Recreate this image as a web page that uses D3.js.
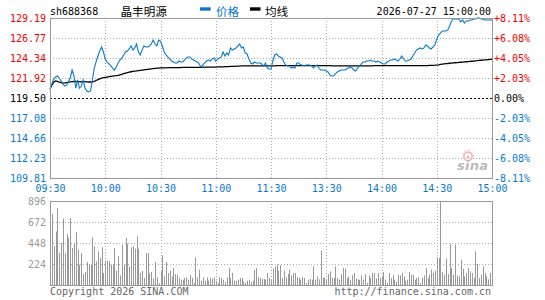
<!DOCTYPE html>
<html><head><meta charset="utf-8">
<script src="https://cdn.jsdelivr.net/npm/d3@7"></script>
<style>body{margin:0;background:#fff} svg{display:block}</style>
</head><body><svg id="c" width="545" height="300"></svg>
<script>
const stockCode = "sh688368";
const stockName = "晶丰明源";
const dateLabel = "2026-07-27 15:00:00";
const legendLabels = ["价格", "均线"];
const priceTicks = [129.19,126.77,124.34,121.92,119.50,117.08,114.66,112.23,109.81];
const pctTicks = ["+8.11%","+6.08%","+4.05%","+2.03%","0.00%","-2.03%","-4.05%","-6.08%","-8.11%"];
const timeTicks = [0,30,60,90,120,150,180,210,240];
const timeLabels = ["09:30","10:00","10:30","11:00","11:30","13:30","14:00","14:30","15:00"];
const volTicks = [224,448,672,896];

const price = [
120.59,121.20,121.80,122.05,122.17,121.92,121.56,121.20,120.95,121.08,
121.44,121.92,122.89,122.17,120.71,121.68,120.71,120.95,121.68,120.71,
120.35,120.23,120.35,121.68,123.13,123.86,124.59,125.19,125.68,125.07,
124.22,123.86,123.62,123.38,123.13,122.89,123.26,123.74,124.10,124.35,
124.71,125.07,125.19,125.44,125.80,125.31,125.56,126.04,125.07,124.71,
125.31,125.80,125.68,125.68,125.80,126.04,126.52,126.04,125.80,126.52,
126.40,125.80,125.07,124.71,124.47,124.22,123.98,123.86,123.74,123.74,
123.98,123.86,123.86,124.10,124.35,124.47,124.47,124.22,124.10,123.98,
123.86,123.62,123.26,123.50,123.74,123.98,124.10,123.98,124.22,124.35,
123.98,124.22,124.35,124.47,125.07,124.59,124.95,124.71,125.56,125.31,
125.44,125.56,125.80,126.04,125.56,125.68,124.95,124.83,124.22,123.74,
123.62,123.86,123.74,123.74,123.74,123.62,123.38,123.74,123.13,123.01,
123.01,
123.98,124.71,124.83,124.59,124.47,124.35,123.86,123.50,123.38,123.38,
123.13,123.26,123.13,123.74,123.74,123.50,123.50,123.38,123.50,123.50,
123.50,123.38,123.13,123.38,123.50,123.13,122.89,122.89,122.89,122.77,
122.65,122.29,122.17,122.17,122.41,122.65,122.77,122.89,122.89,122.89,
123.01,123.13,123.26,123.13,122.89,122.77,123.13,123.38,123.62,123.86,
123.86,123.98,123.98,124.10,123.98,123.98,123.86,123.98,123.86,123.74,
123.62,123.62,123.86,123.98,124.10,124.10,124.22,124.10,123.98,124.22,
124.59,124.22,123.98,123.98,124.10,124.22,124.59,124.95,125.31,125.44,
125.56,125.44,125.56,125.92,125.80,125.56,125.44,125.68,125.92,126.65,
127.13,127.37,127.62,127.62,127.62,127.74,128.22,128.83,129.07,129.07,
129.07,129.07,128.71,128.95,128.58,128.83,128.83,128.95,128.95,129.07,
129.07,129.19,129.19,129.07,129.07,128.95,128.95,128.95,128.95,128.95
];

const avgPrice = [
120.59,121.05,121.40,121.56,121.50,121.42,121.36,121.30,121.32,121.36,
121.40,121.44,121.48,121.50,121.50,121.48,121.48,121.46,121.48,121.48,
121.46,121.44,121.44,121.45,121.52,121.62,121.72,121.82,121.90,121.96,
122.00,122.04,122.08,122.11,122.14,122.17,122.20,122.24,122.30,122.36,
122.45,122.52,122.58,122.64,122.68,122.72,122.75,122.78,122.82,122.85,
122.88,122.91,122.94,122.97,123.00,123.03,123.06,123.09,123.11,123.13,
123.14,123.15,123.16,123.16,123.17,123.17,123.18,123.18,123.18,123.19,
123.19,123.19,123.20,123.20,123.20,123.21,123.21,123.21,123.22,123.22,
123.22,123.22,123.22,123.23,123.23,123.23,123.23,123.24,123.24,123.25,
123.25,123.26,123.26,123.27,123.28,123.29,123.30,123.31,123.32,123.33,
123.34,123.35,123.36,123.37,123.38,123.38,123.38,123.39,123.39,123.39,
123.39,123.39,123.39,123.39,123.39,123.39,123.39,123.39,123.39,123.39,
123.39,
123.40,123.40,123.41,123.41,123.41,123.41,123.41,123.41,123.41,123.41,
123.41,123.41,123.41,123.41,123.41,123.41,123.41,123.41,123.41,123.41,
123.41,123.41,123.41,123.41,123.41,123.41,123.41,123.41,123.41,123.41,
123.41,123.41,123.40,123.40,123.40,123.40,123.40,123.40,123.40,123.40,
123.40,123.40,123.40,123.40,123.40,123.40,123.40,123.40,123.40,123.40,
123.40,123.40,123.40,123.40,123.40,123.41,123.41,123.41,123.41,123.41,
123.41,123.41,123.41,123.41,123.41,123.41,123.41,123.41,123.41,123.41,
123.41,123.41,123.41,123.41,123.42,123.42,123.42,123.42,123.42,123.42,
123.42,123.42,123.42,123.42,123.43,123.44,123.45,123.46,123.47,123.49,
123.52,123.56,123.60,123.63,123.66,123.68,123.71,123.73,123.75,123.77,
123.79,123.81,123.83,123.85,123.87,123.89,123.91,123.93,123.95,123.97,
124.00,124.02,124.05,124.07,124.09,124.11,124.13,124.15,124.17,124.19
];

const volume = [
174,757,412,572,821,341,448,708,341,544,
508,715,395,448,565,377,217,341,117,139,
245,217,217,508,412,252,359,288,402,128,
252,260,252,217,217,395,153,306,103,430,
217,501,441,199,402,412,388,519,388,128,
153,75,341,341,128,139,68,245,82,21,
146,316,92,245,128,153,92,181,117,110,
75,57,57,75,82,57,110,75,21,295,
82,164,46,82,46,82,46,75,68,82,
46,21,82,75,57,32,82,181,75,128,
46,46,57,75,75,39,21,46,57,28,
46,164,181,82,75,64,64,57,128,75,
57,
174,199,217,153,210,75,153,82,117,164,
103,128,128,82,75,57,82,75,21,57,
64,57,199,57,92,60,366,82,75,57,
117,146,75,75,199,75,57,117,181,174,
75,92,57,103,128,68,57,57,103,57,
117,21,103,75,128,128,68,128,75,92,
139,57,21,128,75,103,57,32,110,103,
128,92,46,57,139,110,110,57,75,82,
21,75,103,181,75,110,164,128,153,296,
288,896,139,110,281,117,437,181,110,430,
103,92,270,174,92,128,181,146,128,75,
359,224,75,110,199,128,92,60,128,110
];

const RED = "#f20000", BLUE = "#0a78cc", GRAY = "#999", MONO = "'DejaVu Sans Mono', monospace";
const svg = d3.select("#c");
const L = 50, R = 492, T = 18, B = 178, VT = 201, VB = 285;

const x = d3.scaleLinear().domain([0, 240]).range([L, R]);
const yP = d3.scaleLinear().domain([109.81, 129.19]).range([B, T]);
const yV = d3.scaleLinear().domain([0, 896]).range([VB, VT]);
const px = v => Math.round(v) + 0.5;

// header
svg.append("text").attr("x", 50).attr("y", 15).attr("font-family", MONO).attr("font-size", 10).attr("fill", "#000").text(stockCode);
svg.append("text").attr("x", 120.5).attr("y", 15.5).attr("font-family", "'Noto Sans CJK SC'").attr("font-size", 11.6).attr("fill", "#000").text(stockName);
svg.append("rect").attr("x", 200).attr("y", 7.3).attr("width", 10.7).attr("height", 3.4).attr("fill", BLUE);
svg.append("text").attr("x", 216).attr("y", 15.5).attr("font-family", "'Noto Sans CJK SC'").attr("font-size", 11.6).attr("fill", BLUE).text(legendLabels[0]);
svg.append("rect").attr("x", 250).attr("y", 7.3).attr("width", 10.5).attr("height", 3.4).attr("fill", "#000");
svg.append("text").attr("x", 265).attr("y", 15.5).attr("font-family", "'Noto Sans CJK SC'").attr("font-size", 11.6).attr("fill", "#000").text(legendLabels[1]);
svg.append("text").attr("x", 491).attr("y", 15).attr("text-anchor", "end").attr("font-family", MONO).attr("font-size", 10).attr("fill", "#000").text(dateLabel);

// grids (price)
const g = svg.append("g");
priceTicks.forEach((p, i) => {
  if (i === 0 || i === priceTicks.length - 1) return;
  const yy = px(yP(p));
  g.append("line").attr("x1", L).attr("x2", R).attr("y1", yy).attr("y2", yy)
    .attr("stroke", i === 4 ? "#000" : "#aaa").attr("stroke-dasharray", i === 4 ? "2,2" : "1,2");
});
timeTicks.slice(1, -1).forEach(t => {
  const xx = px(x(t));
  g.append("line").attr("x1", xx).attr("x2", xx).attr("y1", T).attr("y2", B).attr("stroke", "#aaa").attr("stroke-dasharray", "1,2");
  g.append("line").attr("x1", xx).attr("x2", xx).attr("y1", VT).attr("y2", VB).attr("stroke", "#aaa").attr("stroke-dasharray", "1,2");
});
volTicks.slice(0, -1).forEach(v => {
  const yy = px(yV(v));
  g.append("line").attr("x1", L).attr("x2", R).attr("y1", yy).attr("y2", yy).attr("stroke", "#aaa").attr("stroke-dasharray", "1,2");
});

// watermark
const wm = svg.append("g");
wm.append("circle").attr("cx", 468).attr("cy", 156.5).attr("r", 4.2).attr("fill", "none").attr("stroke", "#f5b3b3").attr("stroke-width", 1.6);
wm.append("circle").attr("cx", 468).attr("cy", 157).attr("r", 1.4).attr("fill", "#f5b3b3");
[[-6,-3],[-3,-6],[1,-7],[5,-5],[6,-1]].forEach(d => wm.append("line").attr("x1", 468 + d[0]*0.75).attr("y1", 156.5 + d[1]*0.75).attr("x2", 468 + d[0]).attr("y2", 156.5 + d[1]).attr("stroke", "#f5b3b3").attr("stroke-width", 1));
wm.append("text").attr("x", 457).attr("y", 170).attr("font-family", "'DejaVu Sans'").attr("font-weight", "bold").attr("font-style", "italic").attr("font-size", 13).attr("fill", "#bbb").attr("textLength", 31).text("sina");

// volume bars
svg.append("g").selectAll("rect").data(volume).join("rect")
  .attr("x", (d, i) => Math.round(x(i))).attr("width", 1)
  .attr("y", d => yV(d)).attr("height", d => yV(0) - yV(d)).attr("fill", GRAY);

// lines
svg.append("path").datum(avgPrice).attr("fill", "none").attr("stroke", "#000").attr("stroke-width", 1.3)
  .attr("d", d3.line().x((d, i) => x(i)).y(d => yP(d)));
svg.append("path").datum(price).attr("fill", "none").attr("stroke", BLUE).attr("stroke-width", 1.1)
  .attr("d", d3.line().x((d, i) => x(i)).y(d => yP(d)));

// frames
svg.append("rect").attr("x", L + 0.5).attr("y", T + 0.5).attr("width", R - L).attr("height", B - T).attr("fill", "none").attr("stroke", GRAY);
svg.append("rect").attr("x", L + 0.5).attr("y", VT + 0.5).attr("width", R - L).attr("height", VB - VT).attr("fill", "none").attr("stroke", GRAY);

// axes
function styleAxis(sel, colorFn) {
  sel.select(".domain").remove();
  sel.selectAll(".tick line").remove();
  sel.selectAll("text").attr("font-family", MONO).attr("font-size", 10).attr("fill", colorFn);
}
const colorP = (d, i) => i < 4 ? RED : (i === 4 ? "#000" : BLUE);
svg.append("g").attr("transform", `translate(${L},0)`)
  .call(d3.axisLeft(yP).tickValues(priceTicks).tickFormat(d => d.toFixed(2)).tickSize(0).tickPadding(4))
  .call(s => styleAxis(s, colorP));
const pctScale = d3.scalePoint().domain(pctTicks).range([T, B]);
svg.append("g").attr("transform", `translate(${R},0)`)
  .call(d3.axisRight(pctScale).tickSize(0).tickPadding(2))
  .call(s => styleAxis(s, colorP));
svg.append("g").attr("transform", `translate(0,${B})`)
  .call(d3.axisBottom(x).tickValues(timeTicks).tickFormat((d, i) => timeLabels[i]).tickSize(0).tickPadding(7))
  .call(s => styleAxis(s, BLUE));
svg.append("g").attr("transform", `translate(${L},0)`)
  .call(d3.axisLeft(yV).tickValues(volTicks).tickSize(0).tickPadding(4))
  .call(s => styleAxis(s, GRAY));

// footer
svg.append("text").attr("x", 50).attr("y", 294.5).attr("font-family", MONO).attr("font-size", 10).attr("fill", "#666").text("Copyright 2026 SINA.COM");
svg.append("text").attr("x", 491).attr("y", 294.5).attr("text-anchor", "end").attr("font-family", MONO).attr("font-size", 10).attr("fill", "#666").text("http://finance.sina.com.cn");
</script></body></html>
